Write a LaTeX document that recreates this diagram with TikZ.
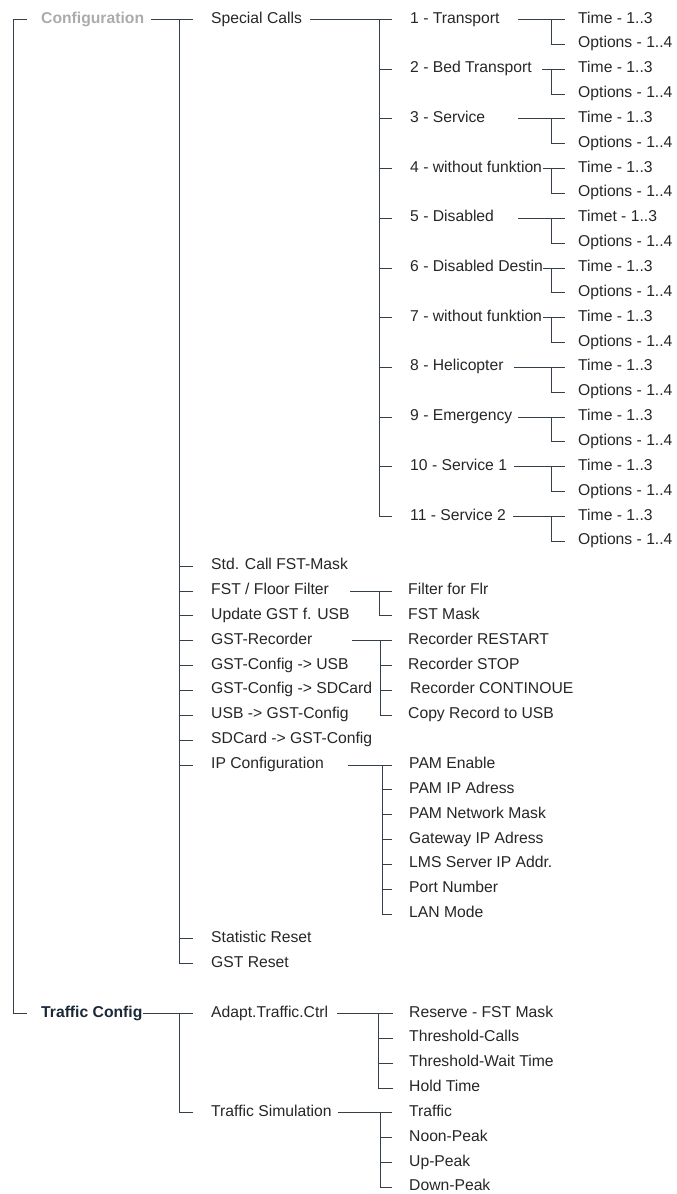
\documentclass[tikz,border=0pt]{standalone}
\usepackage{fontspec}
\setmainfont{Liberation Sans}
\usetikzlibrary{calc}
\definecolor{txtc}{HTML}{262626}
\definecolor{greyc}{HTML}{ABABAB}
\definecolor{navyc}{HTML}{1A2838}
\definecolor{linec}{HTML}{36404A}
\newcommand\rowy[1]{{19.5+24.85*#1}}
\begin{document}
\begin{tikzpicture}[x=1pt,y=-1pt,
  txt/.style={anchor=west, inner xsep=0pt, inner ysep=0pt, text height=10.5pt, text depth=3.5pt, font=\fontsize{15.7}{18}\selectfont, text=txtc},
  topc/.style={txt, font=\fontsize{15.7}{18}\selectfont\bfseries},
  ln/.style={draw=linec, line width=1pt}]
\useasboundingbox (0,0) rectangle (677,1194);

% level 0
\node[topc, text=greyc] (conf) at (41,\rowy{0}) {Configuration};
\node[topc, text=navyc] (tc) at (41,\rowy{40}) {Traffic Config};
\draw[ln] ([xshift=-14pt]conf.west) -- ([xshift=-28pt]conf.west) |- ([xshift=-14pt]tc.west);

% level 1
\foreach \n/\t/\r in {sc/Special Calls/0, std/Std. Call FST-Mask/22, fst/{FST / Floor Filter}/23,
  upd/Update GST f. USB/24, rec/GST-Recorder/25, cusb/GST-Config -> USB/26, csd/GST-Config -> SDCard/27,
  ucfg/USB -> GST-Config/28, sdcfg/SDCard -> GST-Config/29, ip/IP Configuration/30,
  stat/Statistic Reset/37, gres/GST Reset/38, adapt/Adapt.Traffic.Ctrl/40, tsim/Traffic Simulation/44}
  {\node[txt] (\n) at (211,\rowy{\r}) {\t};}

\draw[ln] (conf.east -| 151,0) -- (sc.west -| 193,0);
\draw[ln] (sc.west -| 179,0) |- (gres.west -| 193,0);
\foreach \n in {std,fst,upd,rec,cusb,csd,ucfg,sdcfg,ip,stat}
  {\draw[ln] (\n.west -| 179,0) -- (\n.west -| 193,0);}
\draw[ln] (tc.east) -- (adapt.west -| 193,0);
\draw[ln] (adapt.west -| 179,0) |- (tsim.west -| 193,0);

% special calls
\foreach \i/\lab/\sx/\tm in {1/1 - Transport/518/Time - 1..3, 2/2 - Bed Transport/542/Time - 1..3,
  3/3 - Service/518/Time - 1..3, 4/4 - without funktion/543/Time - 1..3,
  5/5 - Disabled/518/Timet - 1..3, 6/6 - Disabled Destin/543/Time - 1..3,
  7/7 - without funktion/543/Time - 1..3, 8/8 - Helicopter/514/Time - 1..3,
  9/9 - Emergency/518/Time - 1..3, 10/10 - Service 1/514/Time - 1..3,
  11/11 - Service 2/513/Time - 1..3}
{
  \pgfmathtruncatemacro\ra{2*(\i-1)}
  \pgfmathtruncatemacro\rb{2*(\i-1)+1}
  \node[txt] (s\i) at (410,\rowy{\ra}) {\lab};
  \node[txt] (t\i) at (578,\rowy{\ra}) {\tm};
  \node[txt] (o\i) at (578,\rowy{\rb}) {Options - 1..4};
  \draw[ln] (s\i.east -| \sx,0) -- (t\i.west -| 565,0);
  \draw[ln] (t\i.west -| 551,0) |- (o\i.west -| 565,0);
}
\draw[ln] (sc.east -| 310,0) -- (s1.west -| 392,0);
\draw[ln] (s1.west -| 379,0) |- (s11.west -| 392,0);
\foreach \i in {2,...,10}
  {\draw[ln] (s\i.west -| 379,0) -- (s\i.west -| 392,0);}

% FST / Floor Filter
\node[txt] (ff1) at (408,\rowy{23}) {Filter for Flr};
\node[txt] (ff2) at (408,\rowy{24}) {FST Mask};
\draw[ln] (fst.east -| 350,0) -- (ff1.west -| 392,0);
\draw[ln] (ff1.west -| 379,0) |- (ff2.west -| 392,0);

% GST-Recorder
\node[txt] (rc1) at (408,\rowy{25}) {Recorder RESTART};
\node[txt] (rc2) at (408,\rowy{26}) {Recorder STOP};
\node[txt] (rc3) at (410,\rowy{27}) {Recorder CONTINOUE};
\node[txt] (rc4) at (408,\rowy{28}) {Copy Record to USB};
\draw[ln] (rec.east -| 352,0) -- (rc1.west -| 392,0);
\draw[ln] (rc1.west -| 380,0) |- (rc4.west -| 392,0);
\foreach \n in {rc2,rc3}
  {\draw[ln] (\n.west -| 380,0) -- (\n.west -| 392,0);}

% IP Configuration
\foreach \n/\t/\r in {ip1/PAM Enable/30, ip2/PAM IP Adress/31, ip3/PAM Network Mask/32,
  ip4/Gateway IP Adress/33, ip5/LMS Server IP Addr./34, ip6/Port Number/35, ip7/LAN Mode/36}
  {\node[txt] (\n) at (409,\rowy{\r}) {\t};}
\draw[ln] (ip.east -| 348,0) -- (ip1.west -| 392,0);
\draw[ln] (ip1.west -| 382,0) |- (ip7.west -| 392,0);
\foreach \n in {ip2,ip3,ip4,ip5,ip6}
  {\draw[ln] (\n.west -| 382,0) -- (\n.west -| 392,0);}

% Adapt.Traffic.Ctrl
\foreach \n/\t/\r in {ad1/Reserve - FST Mask/40, ad2/Threshold-Calls/41, ad3/Threshold-Wait Time/42, ad4/Hold Time/43}
  {\node[txt] (\n) at (409,\rowy{\r}) {\t};}
\draw[ln] (adapt.east -| 337,0) -- (ad1.west -| 393,0);
\draw[ln] (ad1.west -| 378,0) |- (ad4.west -| 393,0);
\foreach \n in {ad2,ad3}
  {\draw[ln] (\n.west -| 378,0) -- (\n.west -| 393,0);}

% Traffic Simulation
\foreach \n/\t/\r in {ts1/Traffic/44, ts2/Noon-Peak/45, ts3/Up-Peak/46, ts4/Down-Peak/47}
  {\node[txt] (\n) at (409,\rowy{\r}) {\t};}
\draw[ln] (tsim.east -| 338,0) -- (ts1.west -| 392,0);
\draw[ln] (ts1.west -| 380,0) |- (ts4.west -| 392,0);
\foreach \n in {ts2,ts3}
  {\draw[ln] (\n.west -| 380,0) -- (\n.west -| 392,0);}
\end{tikzpicture}
\end{document}
